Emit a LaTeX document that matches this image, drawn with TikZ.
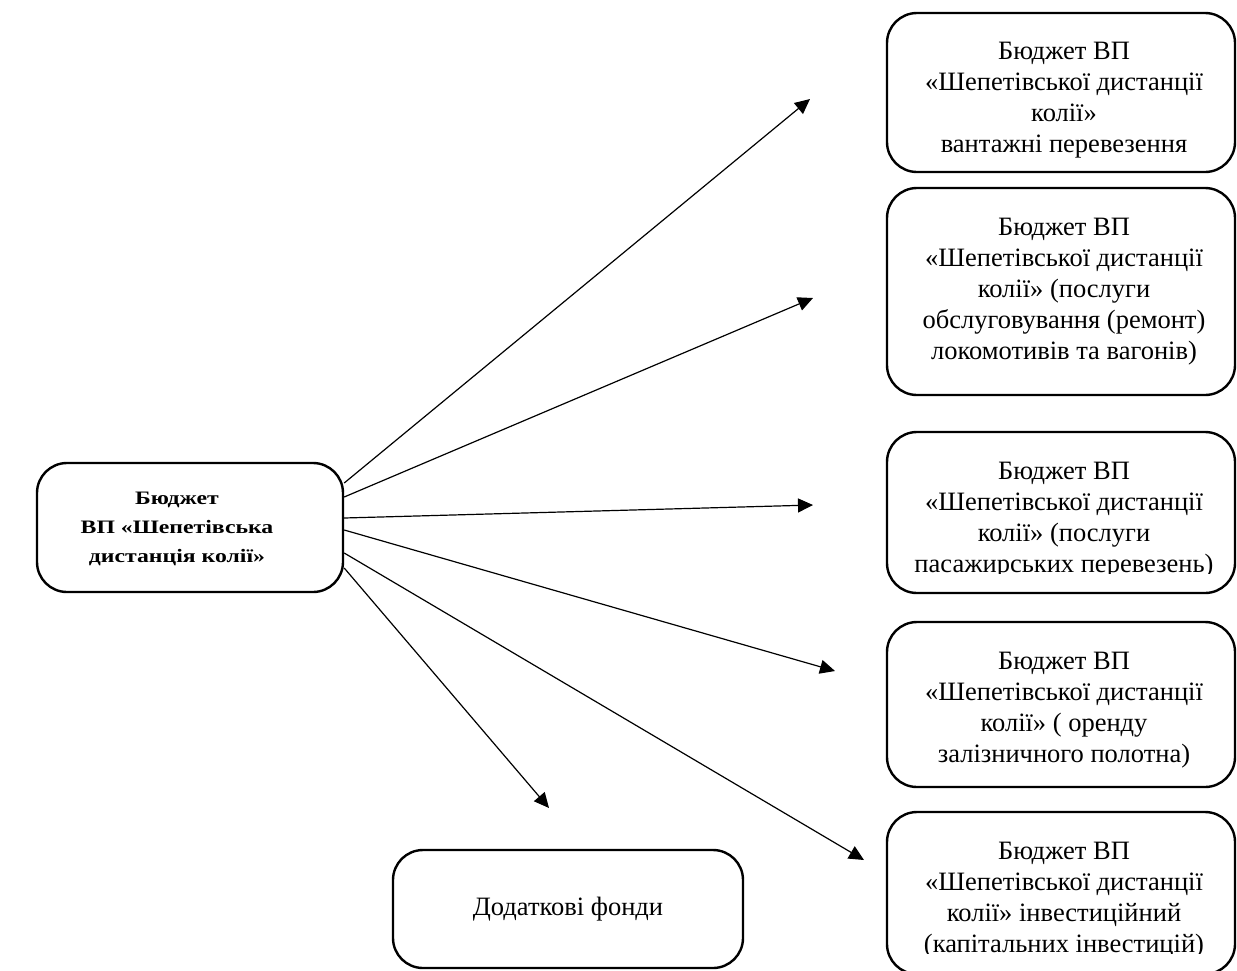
\documentclass[tikz,border=0pt]{standalone}
\usepackage{fontspec}
\setmainfont{Liberation Serif}
\usetikzlibrary{arrows.meta}
\begin{document}
\begin{tikzpicture}[x=1pt,y=-1pt,
 box/.style={draw, line width=2.4pt, rounded corners=30pt, inner sep=0pt},
 rbox/.style={box, minimum width=348pt},
 txt/.style={align=center, inner sep=0pt, font=\fontsize{26.5}{31}\selectfont},
 arr/.style={line width=1.2pt, -{Triangle[length=15pt,width=14pt]}}]
\useasboundingbox (0,0) rectangle (1237,970);
% left main box
\node[box, minimum width=306pt, minimum height=129pt] (main) at (190,527.5) {};
\node[align=center, inner sep=0pt, font=\fontsize{19}{29}\selectfont\bfseries, xscale=1.25, transform shape] (maint) at (177,529) {Бюджет\\ВП «Шепетівська\\дистанція колії»};
% right boxes
\node[rbox, minimum height=159pt] (b1) at (1061,92.5) {};
\node[txt] (t1) at (1064,100) {Бюджет ВП\\«Шепетівської дистанції\\колії»\\вантажні перевезення};
\node[rbox, minimum height=207pt] (b2) at (1061,291.5) {};
\node[txt] (t2) at (1064,292) {Бюджет ВП\\«Шепетівської дистанції\\колії» (послуги\\обслуговування (ремонт)\\локомотивів та вагонів)};
\node[rbox, minimum height=161pt] (b3) at (1061,512.5) {};
\begin{scope}
\clip (887,432) rectangle (1237,573);
\node[txt] (t3) at (1064,520) {Бюджет ВП\\«Шепетівської дистанції\\колії» (послуги\\пасажирських перевезень)};
\end{scope}
\node[rbox, minimum height=165pt] (b4) at (1061,704.5) {};
\node[txt] (t4) at (1064,710) {Бюджет ВП\\«Шепетівської дистанції\\колії» ( оренду\\залізничного полотна)};
\node[rbox, minimum height=162pt] (b5) at (1061,893) {};
\begin{scope}
\clip (887,812) rectangle (1237,953);
\node[txt] (t5) at (1064,900) {Бюджет ВП\\«Шепетівської дистанції\\колії» інвестиційний\\(капітальних інвестицій)};
\end{scope}
% bottom box
\node[box, minimum width=350pt, minimum height=118pt, font=\fontsize{26.5}{31}\selectfont] (extra) at (568,909) {Додаткові фонди};
% arrow start and end points
\coordinate (s1) at (main.east |- 0,483);
\coordinate (s2) at (main.east |- 0,497);
\coordinate (s3) at (main.east |- 0,518);
\coordinate (s4) at (main.east |- 0,530);
\coordinate (s5) at (main.east |- 0,553);
\coordinate (s6) at (main.east |- 0,568);
\coordinate (e1) at (810,99);
\coordinate (e2) at (813,298);
\coordinate (e3) at (813,505);
\coordinate (e4) at (835,671);
\coordinate (e5) at (864,860);
\coordinate (e6) at (549,808);
\draw[arr] (s1) -- (e1);
\draw[arr] (s2) -- (e2);
\draw[arr] (s3) -- (e3);
\draw[arr] (s4) -- (e4);
\draw[arr] (s5) -- (e5);
\draw[arr] (s6) -- (e6);
\end{tikzpicture}
\end{document}
